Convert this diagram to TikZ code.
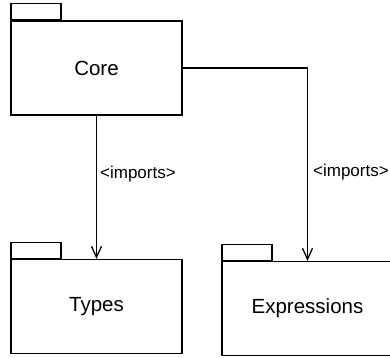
\documentclass[tikz,border=0pt]{standalone}
\usepackage{fontspec}
\setmainfont{Liberation Sans}
\usetikzlibrary{arrows.meta,positioning}

\begin{document}
\begin{tikzpicture}[x=1pt, y=-1pt]
            \tikzstyle{pkg} = [draw, line width=1.3pt, minimum width=171pt, minimum height=94pt, font=\fontsize{20.5}{24}\selectfont]
            \tikzstyle{tab} = [draw, line width=1.3pt, minimum width=50pt, minimum height=16pt, inner sep=0pt, anchor=south west]
            \tikzstyle{imports} = [-{Straight Barb[length=11pt, width=10pt]}, line width=1.3pt]
            \tikzstyle{stereo} = [anchor=west, inner sep=0pt, font=\fontsize{17}{20}\selectfont]
            \useasboundingbox (0, 0) rectangle (390, 357);
            \node[pkg] (core) at (96.5, 68) {Core};
            \node[tab] (coretab) at (core.north west) {};
            \node[pkg] (types) at (96.5, 306.5) {Types};
            \node[tab] (typestab) at (types.north west) {};
            \node[pkg] (expr) at (307.5, 308.5) {Expressions};
            \node[tab] (exprtab) at (expr.north west) {};
            \draw[imports] (core) -- node[stereo, pos=0.41, xshift=3pt] {<imports>} (types);
            \draw[imports] (core.east) -| node[stereo, pos=0.77, xshift=5pt] {<imports>} (expr.north);
        \end{tikzpicture}
\end{document}
